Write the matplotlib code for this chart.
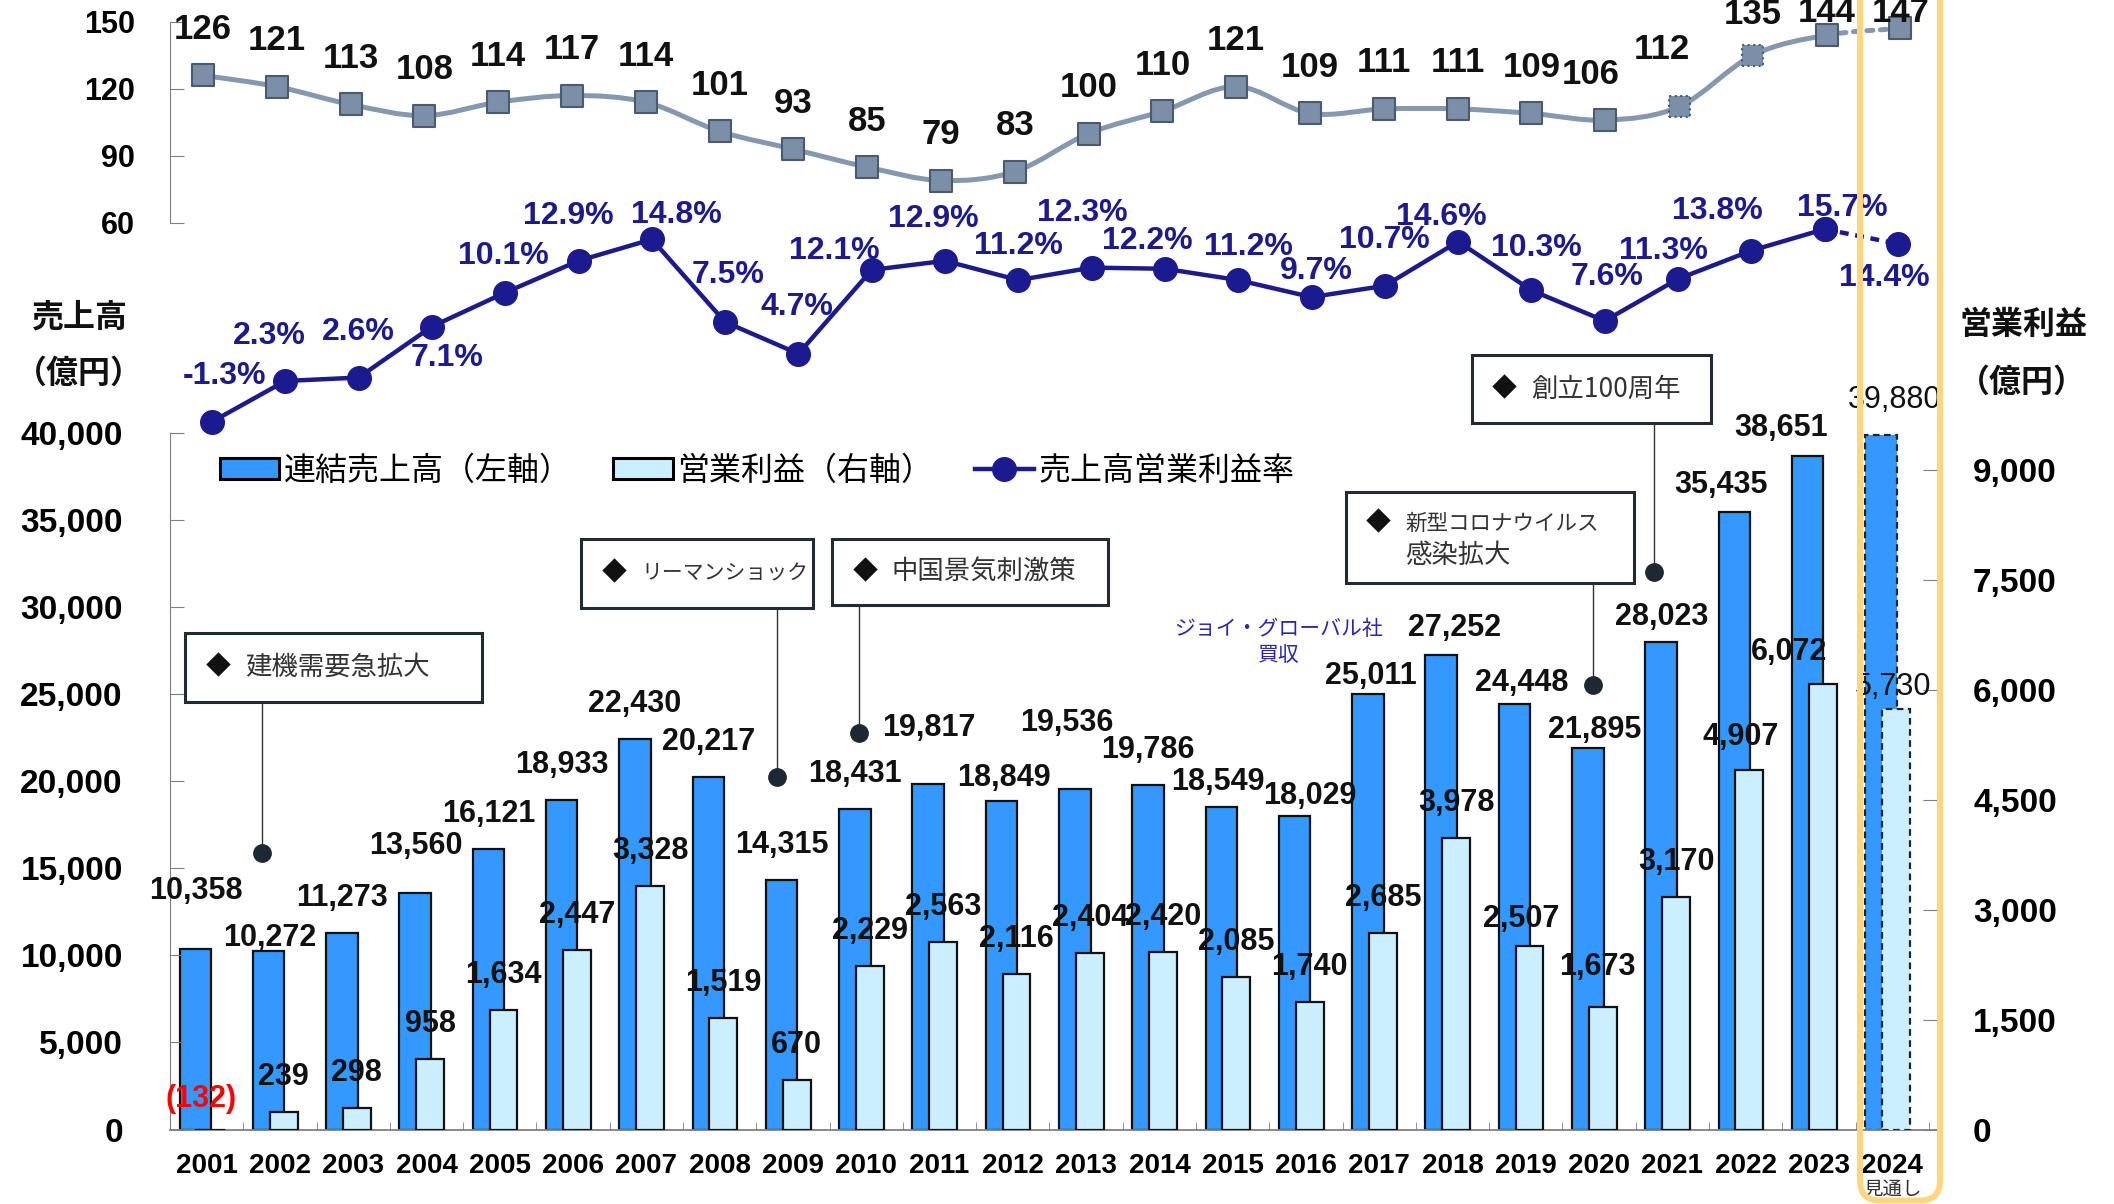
import numpy as np
import matplotlib
matplotlib.use("Agg")
import matplotlib.pyplot as plt
import matplotlib.transforms as mtransforms
from matplotlib.path import Path
from matplotlib.patches import PathPatch, Rectangle, FancyBboxPatch, Patch
from matplotlib.lines import Line2D

# ---- data ----
years = [str(y) for y in range(2001, 2025)]
sales = [10358, 10272, 11273, 13560, 16121, 18933, 22430, 20217, 14315, 18431,
         19817, 18849, 19536, 19786, 18549, 18029, 25011, 27252, 24448, 21895,
         28023, 35435, 38651, 39880]
op_income = [-132, 239, 298, 958, 1634, 2447, 3328, 1519, 670, 2229,
             2563, 2116, 2404, 2420, 2085, 1740, 2685, 3978, 2507, 1673,
             3170, 4907, 6072, 5730]
op_margin = [-1.3, 2.3, 2.6, 7.1, 10.1, 12.9, 14.8, 7.5, 4.7, 12.1,
             12.9, 11.2, 12.3, 12.2, 11.2, 9.7, 10.7, 14.6, 10.3, 7.6,
             11.3, 13.8, 15.7, 14.4]
fx_rate = [126, 121, 113, 108, 114, 117, 114, 101, 93, 85,
           79, 83, 100, 110, 121, 109, 111, 111, 109, 106,
           112, 135, 144, 147]

# events (text, box x0, x1, y0, y1 in bar-axis data units, leader x, dot y)
events = [
    ("建機需要急拡大", -0.29, 3.76, 24550, 28510, 0.76, 15880),
    ("リーマンショック", 5.11, 8.27, 29950, 33910, 7.78, 20240),
    ("中国景気刺激策", 8.53, 12.30, 30120, 33910, 8.90, 22770),
    ("新型コロナウイルス\n感染拡大", 15.54, 19.47, 31385, 36610, 18.91, 25530),
    ("創立100周年", 17.26, 20.53, 40575, 44480, 19.75, 32015),
]
# font size of each text line in the boxes (katakana set smaller, it is narrow in the original)
event_sizes = [(19,), (15,), (19,), (15.5, 19), (19,)]

NUM = ['Liberation Sans', 'Noto Sans CJK JP', 'DejaVu Sans']
JP = ['Noto Sans CJK JP', 'DejaVu Sans']
plt.rcParams['font.family'] = NUM
plt.rcParams['font.weight'] = 'bold'

SALES_C = '#3399ff'
OP_C = '#ccefff'
NAVY = '#1c1a8f'
FX_LINE = '#8498af'
FX_FACE = '#7b8fa8'
FX_EDGE = '#4a5b6e'
GRAY = '#7f7f7f'

W, H = 2114, 1204
fig = plt.figure(figsize=(W / 100, H / 100), dpi=100)


def rect(x0, y0, x1, y1):
    # pixel box (top-left origin) -> figure fraction
    return [x0 / W, 1 - y1 / H, (x1 - x0) / W, (y1 - y0) / H]


ax_bar = fig.add_axes(rect(170, 433, 1937, 1129.5))
ax_op = ax_bar.twinx()
ax_fx = fig.add_axes(rect(170, 21.7, 1937, 223))
ax_m = fig.add_axes(rect(170, 225.7, 1937, 429.7))

x = np.arange(len(years))

# ---- bars ----
ax_bar.set_xlim(-0.463, 23.61)
ax_bar.set_ylim(0, 40000)
ax_op.set_ylim(0, 9500)

sb = ax_bar.bar(x - 0.155, sales, width=0.43, color=SALES_C, edgecolor='#111111', linewidth=1.6)
ob = ax_op.bar(x + 0.05, op_income, width=0.38, color=OP_C, edgecolor='#111111', linewidth=1.6)
for b in (sb[-1], ob[-1]):
    b.set_linestyle((0, (3, 2)))
    b.set_edgecolor('#1a2633')

# sales labels
sales_off = {0: (1, 58), 1: (1, 13), 3: (1, 47), 10: (1, 56), 11: (2, 23), 12: (-8, 66),
             14: (-3, 25), 15: (15, 20), 16: (3, 18), 17: (13, 27), 18: (7, 21),
             19: (7, 18), 20: (1, 25), 21: (-13, 27), 22: (-27, 28), 23: (14, 35)}
for i, v in enumerate(sales):
    dx, dy = sales_off.get(i, (0, 35))
    ax_bar.annotate(f'{v:,}', xy=(i - 0.155, v), xytext=(dx, dy), textcoords='offset pixels',
                    ha='center', va='center', fontsize=22, color='#111111',
                    fontweight='normal' if i == 23 else 'bold', annotation_clip=False)

op_off = {18: (-8, 27), 19: (-5, 40), 21: (-9, 33), 22: (-34, 32), 23: (-3, 22)}
for i, v in enumerate(op_income):
    if v < 0:
        ax_op.annotate(f'({-v})', xy=(i + 0.05, 0), xytext=(-9, 30), textcoords='offset pixels',
                       ha='center', va='center', fontsize=22, color='#ff0000', annotation_clip=False)
        continue
    dx, dy = op_off.get(i, (0, 35))
    ax_op.annotate(f'{v:,}', xy=(i + 0.05, v), xytext=(dx, dy), textcoords='offset pixels',
                   ha='center', va='center', fontsize=22, color='#111111',
                   fontweight='normal' if i == 23 else 'bold', annotation_clip=False)

# axes styling
for s in ['top', 'right']:
    ax_bar.spines[s].set_visible(False)
for s in ['top', 'left', 'bottom']:
    ax_op.spines[s].set_visible(False)
ax_bar.spines['left'].set_color(GRAY)
ax_bar.spines['bottom'].set_color(GRAY)
ax_bar.spines['bottom'].set_linewidth(1.3)
ax_op.spines['right'].set_color(GRAY)

ax_bar.set_yticks(range(0, 40001, 5000))
ax_bar.set_yticklabels([f'{v:,}' for v in range(0, 40001, 5000)])
ax_bar.tick_params(axis='y', direction='in', length=10, color=GRAY, pad=34, labelsize=24)
ax_op.set_yticks(range(0, 9001, 1500))
ax_op.set_yticklabels([f'{v:,}' for v in range(0, 9001, 1500)])
ax_op.tick_params(axis='y', direction='in', length=10, color=GRAY, pad=26, labelsize=24)

ax_bar.set_xticks(x)
ax_bar.set_xticklabels(years)
ax_bar.set_xticks(np.arange(-0.5, 24, 1), minor=True)
ax_bar.tick_params(axis='x', which='major', length=0, pad=17, labelsize=20)
ax_bar.tick_params(axis='x', which='minor', direction='in', length=6, color=GRAY)
ax_bar.set_facecolor('none')
ax_op.set_facecolor('none')

mix = mtransforms.blended_transform_factory(ax_bar.transData, fig.transFigure)
ax_bar.text(23, 1 - 1189 / H, '見通し', transform=mix, ha='center', va='center',
            fontsize=14, fontweight='normal', family=JP, color='#333333')

# event boxes
for (txt, x0, x1, y0, y1, lx, ly), sizes in zip(events, event_sizes):
    r = Rectangle((x0, y0), x1 - x0, y1 - y0, transform=ax_bar.transData, facecolor='white',
                  edgecolor='#222a33', linewidth=2.2, clip_on=False, zorder=5)
    ax_op.add_patch(r)
    ax_op.plot([lx, lx], [y0, ly], transform=ax_bar.transData, color='#333333', lw=1,
               clip_on=False, zorder=4)
    ax_op.plot([lx], [ly], 'o', transform=ax_bar.transData, color='#1e2833', ms=12.5,
               clip_on=False, zorder=6)
    ym = (y0 + y1) / 2
    lines = txt.split('\n')
    shifts = [0] if len(lines) == 1 else [14, -18]
    ax_op.annotate('◆', xy=(x0, ym), xycoords=ax_bar.transData, xytext=(33, shifts[0]),
                   textcoords='offset pixels', ha='center', va='center', fontsize=18,
                   family=JP, color='#111111', fontweight='normal', zorder=7,
                   annotation_clip=False)
    for line, fs, sh in zip(lines, sizes, shifts):
        ax_op.annotate(line, xy=(x0, ym), xycoords=ax_bar.transData, xytext=(60, sh),
                       textcoords='offset pixels', ha='left', va='center', fontsize=fs,
                       family=JP, color='#333333', fontweight='normal',
                       zorder=7, annotation_clip=False)

ax_op.text(14.63, 28000, 'ジョイ・グローバル社\n買収', transform=ax_bar.transData, ha='center',
           va='center', fontsize=15, family=JP, fontweight='normal', color='#2a26b0',
           linespacing=1.25)

# legend
handles = [Patch(facecolor=SALES_C, edgecolor='black', linewidth=2.2),
           Patch(facecolor=OP_C, edgecolor='black', linewidth=2.2),
           Line2D([], [], color=NAVY, lw=3.2, marker='o', ms=17)]
leg = ax_op.legend(handles, ['連結売上高（左軸）', '営業利益（右軸）', '売上高営業利益率'],
                   loc='center left', bbox_to_anchor=(220 / W, 1 - 471 / H),
                   bbox_transform=fig.transFigure, ncol=3, frameon=False,
                   prop={'family': JP, 'size': 23, 'weight': 'normal'},
                   handlelength=1.85, handleheight=0.62, handletextpad=0.15,
                   columnspacing=1.3, borderpad=0, borderaxespad=0)

# ---- exchange rate panel ----
ax_fx.set_xlim(-0.447, 23.495)
ax_fx.set_ylim(60, 150)
ax_fx.set_facecolor('none')
for s in ['top', 'right', 'bottom']:
    ax_fx.spines[s].set_visible(False)
ax_fx.spines['left'].set_color(GRAY)
ax_fx.set_xticks([])
ax_fx.set_yticks([60, 90, 120, 150])
ax_fx.tick_params(axis='y', direction='in', length=10, color=GRAY, pad=25, labelsize=22)

pts = np.column_stack([x, fx_rate]).astype(float)


def smooth_path(seg_from, seg_to):
    n = len(pts)
    verts = [pts[seg_from]]
    codes = [Path.MOVETO]
    for i in range(seg_from, seg_to):
        p0 = pts[max(i - 1, 0)]
        p1 = pts[i]
        p2 = pts[i + 1]
        p3 = pts[min(i + 2, n - 1)]
        verts += [p1 + (p2 - p0) / 6, p2 - (p3 - p1) / 6, p2]
        codes += [Path.CURVE4] * 3
    return Path(verts, codes)


ax_fx.add_patch(PathPatch(smooth_path(0, 22), fill=False, edgecolor=FX_LINE, lw=3.6,
                          capstyle='round', clip_on=False))
ax_fx.add_patch(PathPatch(smooth_path(22, 23), fill=False, edgecolor=FX_LINE, lw=3.6,
                          linestyle=(0, (1.2, 1.5)), capstyle='round', clip_on=False))
ax_fx.scatter(x[:20], fx_rate[:20], marker='s', s=230, color=FX_FACE, edgecolor=FX_EDGE,
              linewidth=1.5, zorder=3, clip_on=False)
ax_fx.scatter(x[20:22], fx_rate[20:22], marker='s', s=230, color=FX_FACE, edgecolor=FX_EDGE,
              linewidth=1.5, linestyle=':', zorder=3, clip_on=False)
ax_fx.scatter(x[22:], fx_rate[22:], marker='s', s=230, color=FX_FACE, edgecolor=FX_EDGE,
              linewidth=1.5, zorder=3, clip_on=False)

fx_off = {19: (-15, 46), 20: (-17, 57), 21: (0, 41), 22: (0, 23), 23: (0, 16)}
for i, v in enumerate(fx_rate):
    dx, dy = fx_off.get(i, (0, 46))
    ax_fx.annotate(str(v), xy=(i, v), xytext=(dx, dy), textcoords='offset pixels',
                   ha='center', va='center', fontsize=25, color='#111111',
                   annotation_clip=False)

# ---- operating margin line ----
ax_m.set_xlim(-0.573, 23.533)
ax_m.set_ylim(-2, 16)
ax_m.axis('off')
ax_m.plot(x[:23], op_margin[:23], color=NAVY, lw=3.2, marker='o', ms=17, clip_on=False)
ax_m.plot(x[22:], op_margin[22:], color=NAVY, lw=3.2, ls=(0, (2, 1.5)), marker='o', ms=17,
          clip_on=False)

m_off = [(12, 46), (-16, 45), (0, 46), (15, -31), (-2, 37), (-10, 45), (25, 24), (3, 47),
         (-1, 47), (-37, 19), (-12, 42), (0, 34), (-9, 55), (-18, 28), (10, 33), (5, 26),
         (0, 46), (-17, 25), (5, 42), (2, 44), (-15, 28), (-34, 40), (18, 21), (-14, -34)]
for i, v in enumerate(op_margin):
    dx, dy = m_off[i]
    ax_m.annotate(f'{v:.1f}%', xy=(i, v), xytext=(dx, dy), textcoords='offset pixels',
                  ha='center', va='center', fontsize=23, color=NAVY, annotation_clip=False)

# ---- axis titles ----
fig.text(79 / W, 1 - 318 / H, '売上高', ha='center', va='center', fontsize=23, family=JP,
         fontweight='bold', color='#111111')
fig.text(79 / W, 1 - 374 / H, '（億円）', ha='center', va='center', fontsize=23, family=JP,
         fontweight='bold', color='#111111')
fig.text(2023 / W, 1 - 325 / H, '営業利益', ha='center', va='center', fontsize=23, family=JP,
         fontweight='bold', color='#111111')
fig.text(2022 / W, 1 - 383 / H, '（億円）', ha='center', va='center', fontsize=23, family=JP,
         fontweight='bold', color='#111111')

# forecast frame around 2024
frame = FancyBboxPatch((18.60, 0.035), 0.80, 12.5, boxstyle='round,pad=0,rounding_size=0.2',
                       transform=fig.dpi_scale_trans, fill=False, edgecolor='#ffd67d',
                       linewidth=4.3, zorder=10)
fig.patches.append(frame)

fig.savefig('out.png', dpi=100)
